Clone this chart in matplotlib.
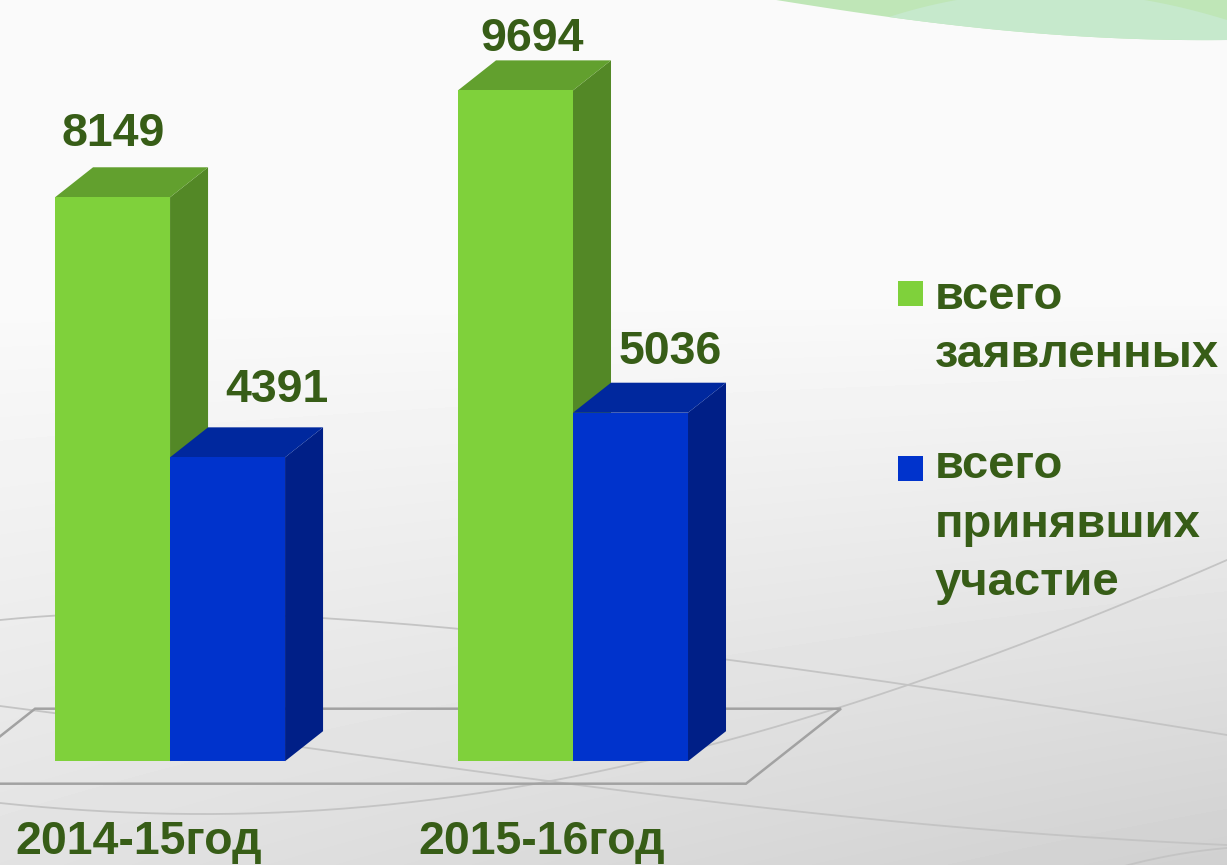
import numpy as np
import matplotlib.pyplot as plt
from matplotlib.patches import Polygon, Rectangle

W, H = 1227, 865

# Data
years = ["2014-15год", "2015-16год"]
series_names = ["всего\nзаявленных", "всего\nпринявших\nучастие"]
declared = [8149, 9694]
participated = [4391, 5036]

front_colors = ["#7fd13b", "#0033cc"]
top_colors = ["#62a02e", "#00289e"]
side_colors = ["#538826", "#001f87"]
text_color = "#375d17"

# label nudges in pixels (from the top-front centre of each bar)
label_nudge = [[(1, 51), (17, 39)], [(49, 55), (40, 49)]]

plt.rcParams['font.family'] = ['Liberation Sans', 'DejaVu Sans']

fig = plt.figure(figsize=(W / 100, H / 100), dpi=100)

# background layer in pixel coordinates
bg = fig.add_axes([0, 0, 1, 1])
yy, xx = np.mgrid[0:H, 0:W]
shade = np.where(yy < 300, 250.0, 250.0 - (yy - 300) / (H - 300) * (24 + 14 * xx / W))
shade = shade - 4 * np.clip((yy - 200) / 665, 0, 1) * (xx / W)
bg.imshow(shade, cmap="gray", vmin=0, vmax=255, extent=(0, W, H, 0), aspect="auto",
          interpolation="bilinear")


def bez(p, n=200):
    t = np.linspace(0, 1, n)[:, None]
    p = np.asarray(p, float)
    if len(p) == 3:
        return (1 - t) ** 2 * p[0] + 2 * (1 - t) * t * p[1] + t ** 2 * p[2]
    return ((1 - t) ** 3 * p[0] + 3 * (1 - t) ** 2 * t * p[1]
            + 3 * (1 - t) * t ** 2 * p[2] + t ** 3 * p[3])


# decorative swooshes
for pts in [[(0, 706), (420, 760), (780, 825), (1227, 845)],
            [(0, 803), (350, 840), (700, 790), (1227, 560)],
            [(0, 620), (200, 600), (500, 615), (1227, 735)],
            [(1080, 880), (1130, 862), (1180, 852), (1227, 848)]]:
    c = bez(pts)
    bg.plot(c[:, 0], c[:, 1], color="#c4c4c4", lw=1.3, solid_capstyle="round")

# green arcs top right
low = bez([(770, -1), (900, 20), (1050, 42), (1227, 40)])
dark = np.vstack([low, [(1227, -5), (770, -5)]])
bg.add_patch(Polygon(dark, closed=True, fc="#bfe6b7", ec="none"))
lens_low = low[low[:, 0] >= 887]
up = bez([tuple(lens_low[0]), (1050, -35), (1227, 20)])
lens = np.vstack([lens_low, up[::-1]])
bg.add_patch(Polygon(lens, closed=True, fc="#c6e9cc", ec="none"))

# legend (square sits on the first line, text baseline given for the last line)
legend_sq_y = [281, 456]
legend_last_baseline = [367, 595]
for i, name in enumerate(series_names):
    bg.add_patch(Rectangle((898, legend_sq_y[i]), 25, 25, fc=front_colors[i], ec="none"))
    bg.text(935, legend_last_baseline[i], name, fontsize=34, fontweight="bold",
            color=text_color, va="baseline", ha="left", linespacing=1.42)

bg.set_xlim(0, W)
bg.set_ylim(H, 0)
bg.axis("off")

# chart layer
ax = fig.add_axes([0, 0, 1, 1], zorder=1)
ax.patch.set_alpha(0)
ax.set_xlim(-0.422, 2.623)
ax.set_ylim(-1500, 11000)
ax.axis("off")

p0 = ax.transData.transform((0, 0))
px_x = ax.transData.transform((1, 0))[0] - p0[0]
px_y = ax.transData.transform((0, 1))[1] - p0[1]
ddx = 38 / px_x
ddy = 30 / px_y
w = 0.2854

# floor
fl = [(-0.5 - 0.75 * ddx, -0.75 * ddy), (1.5 - 0.75 * ddx, -0.75 * ddy),
      (1.5 + 1.75 * ddx, 1.75 * ddy), (-0.5 + 1.75 * ddx, 1.75 * ddy)]
ax.add_patch(Polygon(fl, closed=True, fc="none", ec="#a2a2a2", lw=1.8))

series = [declared, participated]
for c in range(len(years)):
    for s, vals in enumerate(series):
        x = c - w + s * w
        v = vals[c]
        side = [(x + w, 0), (x + w + ddx, ddy), (x + w + ddx, v + ddy), (x + w, v)]
        top = [(x, v), (x + ddx, v + ddy), (x + w + ddx, v + ddy), (x + w, v)]
        ax.add_patch(Polygon(side, closed=True, fc=side_colors[s], ec="none"))
        ax.add_patch(Polygon(top, closed=True, fc=top_colors[s], ec="none"))
        ax.add_patch(Rectangle((x, 0), w, v, fc=front_colors[s], ec="none"))
        nx, ny = label_nudge[s][c]
        ax.annotate(str(v), xy=(x + w / 2, v), xytext=(nx, ny), textcoords="offset pixels",
                    ha="center", va="baseline", fontsize=33.5, fontweight="bold",
                    color=text_color)
    ax.annotate(years[c], xy=(c, 0), xytext=(-31, -93), textcoords="offset pixels",
                ha="center", va="baseline", fontsize=33.5, fontweight="bold",
                color=text_color, annotation_clip=False)

fig.savefig("out.png", dpi=100)
